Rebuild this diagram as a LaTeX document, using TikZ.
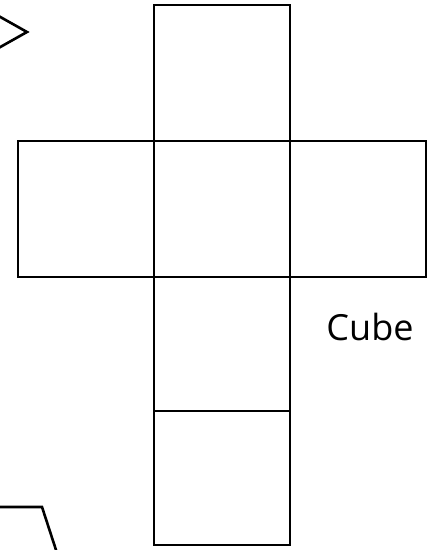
\documentclass[tikz,border=0pt]{standalone}
\usepackage{fontspec}
\setmainfont{Open Sans}
\usepackage{tikz}
\usetikzlibrary{positioning}
\tikzstyle{face} = [draw, line width=2.6pt]
\tikzstyle{edge} = [draw, line width=2.6pt, line join=miter]

\begin{document}
\begin{tikzpicture}[x=1pt, y=-1pt]
    \useasboundingbox (0,0) rectangle (439,550);
    \clip (0,0) rectangle (439,550);
    % net of the cube
    \draw [face] (154,5) rectangle (290,141);
    \draw [face] (18,141) rectangle (154,277);
    \draw [face] (154,141) rectangle (290,277);
    \draw [face] (290,141) rectangle (426,277);
    \draw [face] (154,277) rectangle (290,411);
    \draw [face] (154,411) rectangle (290,545);
    % pieces at the edges
    \draw [edge] (-5,14) -- (27,32) -- (-5,50);
    \draw [edge] (-5,507) -- (42,507) -- (57,553);
    \node [font=\fontsize{36}{43}\selectfont] (label) at (370,327) {Cube};
\end{tikzpicture}
\end{document}
